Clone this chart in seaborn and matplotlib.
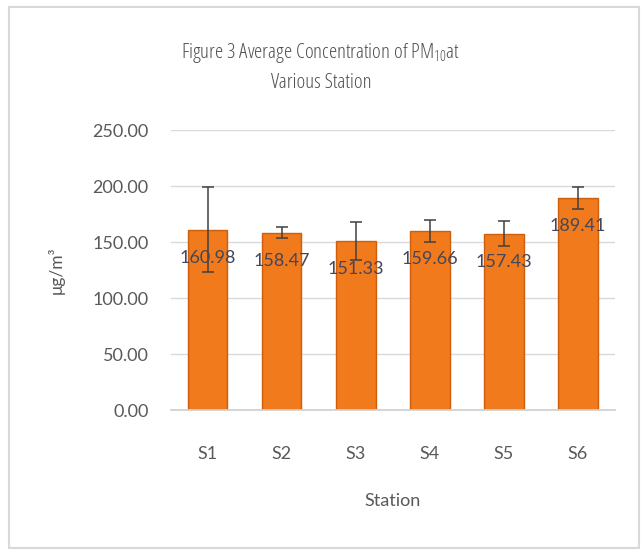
import numpy as np
import pandas as pd
import matplotlib
matplotlib.use("Agg")
import matplotlib.pyplot as plt
import seaborn as sns
from matplotlib.patches import Rectangle

# data
stations = ['S1', 'S2', 'S3', 'S4', 'S5', 'S6']
pm10_avg = [160.98, 158.47, 151.33, 159.66, 157.43, 189.41]
pm10_err = [38, 5, 17, 10, 11, 10]
y_ticks = [0, 50, 100, 150, 200, 250]

sns.set_theme(style="white")
plt.rcParams['font.family'] = ['Lato', 'DejaVu Sans']
plt.rcParams['mathtext.default'] = 'regular'

df = pd.DataFrame({'Station': stations, 'PM10': pm10_avg})

fig = plt.figure(figsize=(6.42, 5.5), dpi=100)
ax = fig.add_axes([0.266, 0.2545, 0.692, 0.509])

sns.barplot(data=df, x='Station', y='PM10', color='#F07A1C',
            saturation=1, width=0.53, edgecolor='#CF5E0C', linewidth=1.0, ax=ax)

ax.errorbar(np.arange(len(stations)), pm10_avg, yerr=pm10_err, fmt='none',
            ecolor='#404040', elinewidth=1.1, capsize=4.5, capthick=1.1, zorder=4)

# value labels sit a bit below the top of each bar
for i, v in enumerate(pm10_avg):
    ax.annotate(f'{v:.2f}', xy=(i, v), xytext=(0, -28), textcoords='offset pixels',
                ha='center', va='center', fontsize=13, color='#44475A', zorder=5)

ax.set_ylim(0, 250)
ax.set_yticks(y_ticks)
ax.set_yticklabels([f'{t:.2f}' for t in y_ticks])
ax.set_xlim(-0.5, len(stations) - 0.5)
ax.yaxis.grid(True, color='#D9D9D9', linewidth=1.0)
ax.set_axisbelow(True)
for s in ['top', 'right', 'left']:
    ax.spines[s].set_visible(False)
ax.spines['bottom'].set_color('#D0D0D0')
ax.tick_params(axis='both', length=0, labelsize=13, labelcolor='#595959')
ax.tick_params(axis='y', pad=16)
ax.tick_params(axis='x', pad=26)

ax.set_xlabel('Station', fontsize=13, color='#595959', labelpad=22)
ax.set_ylabel('μg/m³', fontsize=12.5, color='#595959', labelpad=20)

title_font = dict(family=['Open Sans', 'DejaVu Sans'], fontstretch='condensed',
                  fontweight='normal', fontsize=15, color='#505050',
                  ha='center', va='center')
fig.text(0.5, 0.903, 'Figure 3 Average Concentration of PM$_{10}$at', **title_font)
fig.text(0.5, 0.85, 'Various Station', **title_font)

# chart border
fig.patches.append(Rectangle((9 / 642, 2 / 550), 630 / 642, 541 / 550,
                             transform=fig.transFigure, fill=False,
                             edgecolor='#D9D9D9', linewidth=1.5))

fig.savefig('out.png', dpi=100)
